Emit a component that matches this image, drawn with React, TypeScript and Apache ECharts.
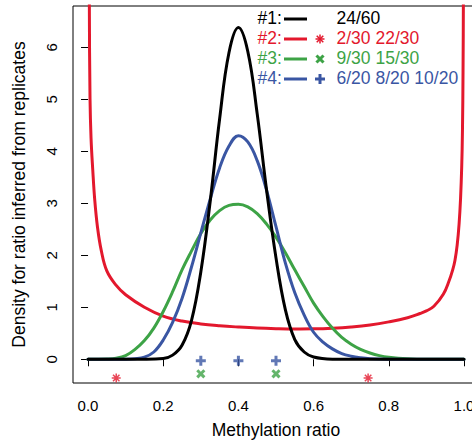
import React, { useEffect, useRef } from "react";
import * as echarts from "echarts";

// Density curves: [methylation ratio, density]
const curve1: [number, number][] = [
  [0, 0], [0.1, 0], [0.15, 0.001], [0.2, 0.015], [0.225, 0.08], [0.25, 0.27], [0.275, 0.74],
  [0.3, 1.68], [0.325, 3.04], [0.35, 4.62], [0.375, 5.9], [0.4, 6.38], [0.425, 5.92],
  [0.45, 4.72], [0.475, 3.25], [0.5, 1.95], [0.525, 0.95], [0.55, 0.38], [0.575, 0.14],
  [0.6, 0.045], [0.65, 0.003], [0.7, 0], [1, 0],
];
const curve2: [number, number][] = [
  [0.003, 9], [0.0035, 6.8], [0.0053, 5.0], [0.008, 4.25], [0.0125, 3.65], [0.018, 3.05],
  [0.025, 2.55], [0.035, 2.1], [0.05, 1.7], [0.075, 1.42], [0.1, 1.24], [0.15, 1.0],
  [0.2, 0.83], [0.25, 0.735], [0.3, 0.68], [0.35, 0.645], [0.4, 0.62], [0.45, 0.6],
  [0.5, 0.588], [0.55, 0.582], [0.6, 0.585], [0.65, 0.598], [0.7, 0.622], [0.75, 0.66],
  [0.8, 0.72], [0.85, 0.8], [0.883, 0.88], [0.9, 0.93], [0.92, 1.02], [0.945, 1.25],
  [0.96, 1.5], [0.97, 1.72], [0.976, 1.9], [0.982, 2.2], [0.987, 2.6], [0.991, 3.1],
  [0.994, 3.7], [0.996, 4.4], [0.9975, 5.5], [0.9985, 7], [0.999, 9],
];
const curve3: [number, number][] = [
  [0, 0], [0.05, 0.005], [0.075, 0.02], [0.1, 0.07], [0.125, 0.19], [0.15, 0.36],
  [0.175, 0.6], [0.2, 0.92], [0.225, 1.3], [0.25, 1.72], [0.275, 2.08], [0.3, 2.42],
  [0.325, 2.68], [0.35, 2.86], [0.375, 2.96], [0.4, 2.98], [0.425, 2.93], [0.45, 2.8],
  [0.475, 2.6], [0.5, 2.35], [0.525, 2.05], [0.55, 1.72], [0.575, 1.4], [0.6, 1.08],
  [0.625, 0.82], [0.65, 0.6], [0.675, 0.42], [0.7, 0.29], [0.725, 0.19], [0.75, 0.12],
  [0.775, 0.07], [0.8, 0.04], [0.85, 0.01], [0.9, 0], [1, 0],
];
const curve4: [number, number][] = [
  [0, 0], [0.1, 0.002], [0.125, 0.01], [0.15, 0.04], [0.175, 0.14], [0.2, 0.37],
  [0.225, 0.71], [0.25, 1.17], [0.275, 1.77], [0.3, 2.43], [0.325, 3.08], [0.35, 3.68],
  [0.375, 4.1], [0.4, 4.3], [0.425, 4.18], [0.45, 3.82], [0.475, 3.25], [0.5, 2.55],
  [0.525, 1.85], [0.55, 1.28], [0.575, 0.85], [0.6, 0.52], [0.625, 0.33], [0.65, 0.2],
  [0.675, 0.11], [0.7, 0.06], [0.725, 0.03], [0.75, 0.012], [0.8, 0.002], [0.85, 0], [1, 0],
];

// Replicate ratios (markers under the curves)
const reps2 = [0.075, 0.745];
const reps3 = [0.3, 0.5];
const reps4 = [0.3, 0.4, 0.5];
const markerLevel2 = -0.36;
const markerLevel3 = -0.28;
const markerLevel4 = -0.03;

const xTicks = [0, 0.2, 0.4, 0.6, 0.8, 1.0];
const yTicks = [0, 1, 2, 3, 4, 5, 6];

const legendLabels = ["#1:", "#2:", "#3:", "#4:"];
const legendTexts = ["24/60", "2/30 22/30", "9/30 15/30", "6/20 8/20 10/20"];

const BLACK = "#000000";
const RED = "#E3182D";
const GREEN = "#3DA346";
const BLUE = "#3A56A3";
const colors = [BLACK, RED, GREEN, BLUE];
const FONT = "'Liberation Sans', Arial, Helvetica, sans-serif";

const PLUS = "path://M-1.5,-5H1.5V-1.5H5V1.5H1.5V5H-1.5V1.5H-5V-1.5H-1.5Z";
const STAR = "path://M0,-5L0,5M-5,0L5,0M-3.6,-3.6L3.6,3.6M-3.6,3.6L3.6,-3.6";

function lineSeries(data: [number, number][], color: string, z: number) {
  return {
    type: "line",
    data,
    showSymbol: false,
    smooth: 0.4,
    clip: true,
    silent: true,
    z,
    lineStyle: { color, width: 3, cap: "round", join: "round" },
  };
}

export default function App() {
  const ref = useRef<HTMLDivElement>(null);
  useEffect(() => {
    const chart = echarts.init(ref.current!, null, { renderer: "svg" });
    const rowY = [19, 39, 59, 79];
    const legend: any[] = [];
    rowY.forEach((y, i) => {
      legend.push({
        type: "text", left: 257.5, top: y - 10,
        style: { text: legendLabels[i], fill: colors[i], font: `17.5px ${FONT}` },
      });
      legend.push({
        type: "line", shape: { x1: 284, y1: y, x2: 307, y2: y },
        style: { stroke: colors[i], lineWidth: 3 },
      });
      legend.push({
        type: "text", left: 336.5, top: y - 10,
        style: { text: legendTexts[i], fill: colors[i], font: `17.5px ${FONT}` },
      });
    });
    legend.push({
      type: "group", x: 320, y: 39,
      children: [
        { type: "line", shape: { x1: 0, y1: -4.5, x2: 0, y2: 4.5 }, style: { stroke: RED, lineWidth: 1.5 } },
        { type: "line", shape: { x1: -4.5, y1: 0, x2: 4.5, y2: 0 }, style: { stroke: RED, lineWidth: 1.5 } },
        { type: "line", shape: { x1: -3.3, y1: -3.3, x2: 3.3, y2: 3.3 }, style: { stroke: RED, lineWidth: 1.5 } },
        { type: "line", shape: { x1: -3.3, y1: 3.3, x2: 3.3, y2: -3.3 }, style: { stroke: RED, lineWidth: 1.5 } },
      ],
    });
    legend.push({
      type: "group", x: 320, y: 59, rotation: Math.PI / 4,
      children: [
        { type: "rect", shape: { x: -1.5, y: -5, width: 3, height: 10 }, style: { fill: GREEN } },
        { type: "rect", shape: { x: -5, y: -1.5, width: 10, height: 3 }, style: { fill: GREEN } },
      ],
    });
    legend.push({
      type: "group", x: 320, y: 79,
      children: [
        { type: "rect", shape: { x: -1.5, y: -5, width: 3, height: 10 }, style: { fill: BLUE } },
        { type: "rect", shape: { x: -5, y: -1.5, width: 10, height: 3 }, style: { fill: BLUE } },
      ],
    });

    chart.setOption({
      animation: false,
      backgroundColor: "#ffffff",
      textStyle: { fontFamily: FONT },
      grid: {
        left: 73, top: 6, width: 406, height: 377,
        outerBoundsMode: "none", containLabel: false,
        show: true, borderColor: "#000", borderWidth: 1, backgroundColor: "transparent",
      },
      xAxis: {
        type: "value", min: -0.04, max: 1.04,
        name: "Methylation ratio", nameLocation: "middle", nameGap: 38,
        nameTextStyle: { fontSize: 17.5, color: "#000", fontFamily: FONT },
        axisLine: { show: false },
        splitLine: { show: false },
        axisTick: { show: true, length: 7, lineStyle: { color: "#000", width: 1 }, customValues: xTicks },
        axisLabel: {
          customValues: xTicks, fontSize: 15, color: "#000", margin: 15, fontFamily: FONT,
          formatter: (v: number) => v.toFixed(1),
        },
      },
      yAxis: {
        type: "value", min: -0.456, max: 6.794,
        name: "Density for ratio inferred from replicates", nameLocation: "middle", nameGap: 45,
        nameTextStyle: { fontSize: 17.5, color: "#000", fontFamily: FONT },
        axisLine: { show: false },
        splitLine: { show: false },
        axisTick: { show: true, length: 7, lineStyle: { color: "#000", width: 1 }, customValues: yTicks },
        axisLabel: {
          customValues: yTicks, fontSize: 15, color: "#000", margin: 14, rotate: 90, fontFamily: FONT,
        },
      },
      series: [
        lineSeries(curve2, RED, 2),
        lineSeries(curve3, GREEN, 3),
        lineSeries(curve4, BLUE, 4),
        lineSeries(curve1, BLACK, 5),
        {
          type: "scatter", silent: true, z: 6,
          data: reps2.map((x) => [x, markerLevel2]),
          symbol: STAR, symbolSize: 9,
          itemStyle: { color: "transparent", borderColor: RED, borderWidth: 1.5 },
        },
        {
          type: "scatter", silent: true, z: 6,
          data: reps3.map((x) => [x, markerLevel3]),
          symbol: PLUS, symbolSize: 10, symbolRotate: 45,
          itemStyle: { color: GREEN },
        },
        {
          type: "scatter", silent: true, z: 6,
          data: reps4.map((x) => [x, markerLevel4]),
          symbol: PLUS, symbolSize: 10,
          itemStyle: { color: BLUE },
        },
      ],
      graphic: legend,
    });
    return () => chart.dispose();
  }, []);
  return <div ref={ref} style={{ position: "absolute", left: 0, top: 0, width: 472, height: 441 }} />;
}
